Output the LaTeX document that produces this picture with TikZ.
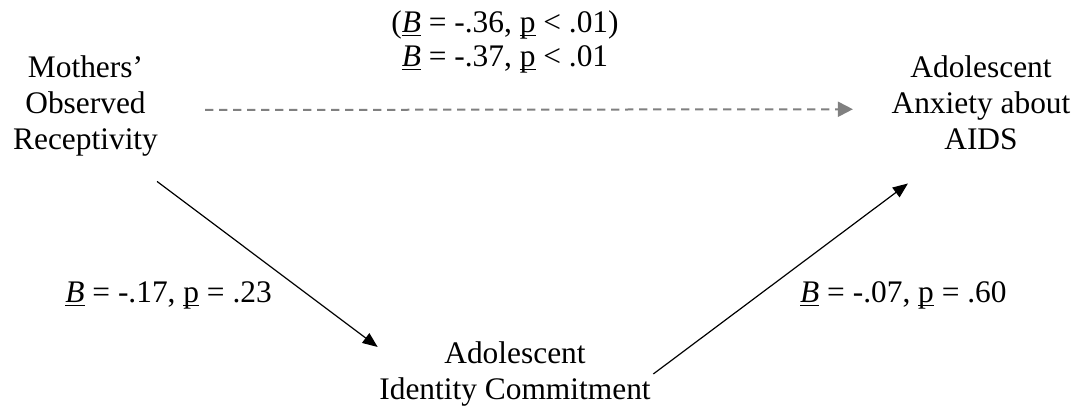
\documentclass[tikz,border=0pt]{standalone}
\usepackage{fontspec}
\setmainfont{Liberation Serif}
\usetikzlibrary{arrows.meta, positioning}
\definecolor{dashgray}{RGB}{128,128,128}
\newcommand{\uln}[1]{\setbox0\hbox{#1}\rlap{\rule[-3.5pt]{\wd0}{1.3pt}}#1}

\begin{document}
\begin{tikzpicture}[
				x=1pt, y=-1pt,
				var/.style={align=center, inner sep=0pt, anchor=north, font=\fontsize{31.4}{36}\selectfont},
				coef/.style={inner sep=0pt, anchor=base, font=\fontsize{31.4}{36}\selectfont},
				arrow/.style={-{Triangle[length=15pt, width=12pt]}, line width=1.2pt},
				direct/.style={-{Triangle[length=15pt, width=15pt]}, line width=2pt, color=dashgray, dash pattern=on 8.3pt off 5.7pt}
				]
				\useasboundingbox (0,0) rectangle (1077,406);
				
				% Variables
				\node[var] (mothers) at (85.5,55.5) {Mothers'\\Observed\\Receptivity};
				\node[var] (anxiety) at (981,55.5) {Adolescent\\Anxiety about\\AIDS};
				\node[var] (identity) at (515,341.5) {Adolescent\\Identity Commitment};
				
				% Coefficients
				\node[coef] (total) at (505,33) {(\uln{\textit{B}} = -.36, \uln{p} < .01)};
				\node[coef] (direct) at (505,67) {\uln{\textit{B}} = -.37, \uln{p} < .01};
				\node[coef, anchor=base east] (apath) at (272,303) {\uln{\textit{B}} = -.17, \uln{p} = .23};
				\node[coef, anchor=base west] (bpath) at (800,303) {\uln{\textit{B}} = -.07, \uln{p} = .60};
				
				% Paths
				\draw[direct] ([shift={(47,4)}]mothers.east) -- ([shift={(-38.5,6.5)}]anxiety.west);
				\draw[arrow] ([shift={(-1,25)}]mothers.south east) -- ([shift={(-1.5,5.5)}]identity.north west);
				\draw[arrow] ([shift={(2.5,0)}]identity.east) -- ([shift={(16.5,33.5)}]anxiety.south west);
				
			\end{tikzpicture}
\end{document}
